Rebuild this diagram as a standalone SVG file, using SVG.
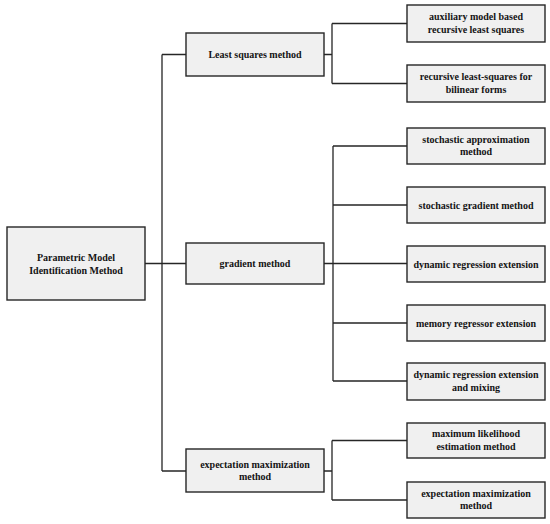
<svg xmlns="http://www.w3.org/2000/svg" width="550" height="524" viewBox="0 0 550 524">
<style>
.box{fill:#f0f0f0;stroke:#262626;stroke-width:1.4}
.t{font-family:"Liberation Serif","Times New Roman",serif;font-weight:bold;font-size:10px;fill:#141414;text-anchor:middle}
.c{fill:none;stroke:#262626;stroke-width:1.3}
</style>
<rect width="550" height="524" fill="#ffffff"/>
<g id="connectors">
<path class="c" d="M145,263.5 H186"/>
<path class="c" d="M162,54.5 V471 M162,54.5 H186 M162,471 H186"/>
<path class="c" d="M324,54.5 H332 M332,23.5 V83.5 M332,23.5 H407 M332,83.5 H407"/>
<path class="c" d="M324,263.5 H407 M333,146 V381 M333,146 H407 M333,205 H407 M333,323 H407 M333,381 H407"/>
<path class="c" d="M324,471 H332 M332,440.5 V500 M332,440.5 H407 M332,500 H407"/>
</g>
<g id="root"><rect class="box" x="7" y="227" width="138" height="73"/><text class="t" x="76" y="261">Parametric Model</text><text class="t" x="76" y="273.5">Identification Method</text></g>
<g id="least-squares"><rect class="box" x="186" y="33" width="138" height="43"/><text class="t" x="255" y="58">Least squares method</text></g>
<g id="gradient"><rect class="box" x="186" y="243" width="138" height="41"/><text class="t" x="255" y="267">gradient method</text></g>
<g id="em"><rect class="box" x="186" y="449" width="138" height="43"/><text class="t" x="255" y="467.5">expectation maximization</text><text class="t" x="255" y="480">method</text></g>
<g id="ls1"><rect class="box" x="407" y="5" width="138" height="37"/><text class="t" x="476" y="20">auxiliary model based</text><text class="t" x="476" y="32.5">recursive least squares</text></g>
<g id="ls2"><rect class="box" x="407" y="65" width="138" height="37"/><text class="t" x="476" y="80">recursive least-squares for</text><text class="t" x="476" y="92.5">bilinear forms</text></g>
<g id="g1"><rect class="box" x="407" y="128" width="138" height="36"/><text class="t" x="476" y="142.5">stochastic approximation</text><text class="t" x="476" y="155">method</text></g>
<g id="g2"><rect class="box" x="407" y="187" width="138" height="36"/><text class="t" x="476" y="208.5">stochastic gradient method</text></g>
<g id="g3"><rect class="box" x="407" y="246" width="138" height="36"/><text class="t" x="476" y="267.5">dynamic regression extension</text></g>
<g id="g4"><rect class="box" x="407" y="305" width="138" height="36"/><text class="t" x="476" y="326.5">memory regressor extension</text></g>
<g id="g5"><rect class="box" x="407" y="363" width="138" height="37"/><text class="t" x="476" y="378">dynamic regression extension</text><text class="t" x="476" y="390.5">and mixing</text></g>
<g id="em1"><rect class="box" x="407" y="423" width="138" height="35"/><text class="t" x="476" y="437">maximum likelihood</text><text class="t" x="476" y="449.5">estimation method</text></g>
<g id="em2"><rect class="box" x="407" y="482" width="138" height="36"/><text class="t" x="476" y="496.5">expectation maximization</text><text class="t" x="476" y="509">method</text></g>
</svg>
